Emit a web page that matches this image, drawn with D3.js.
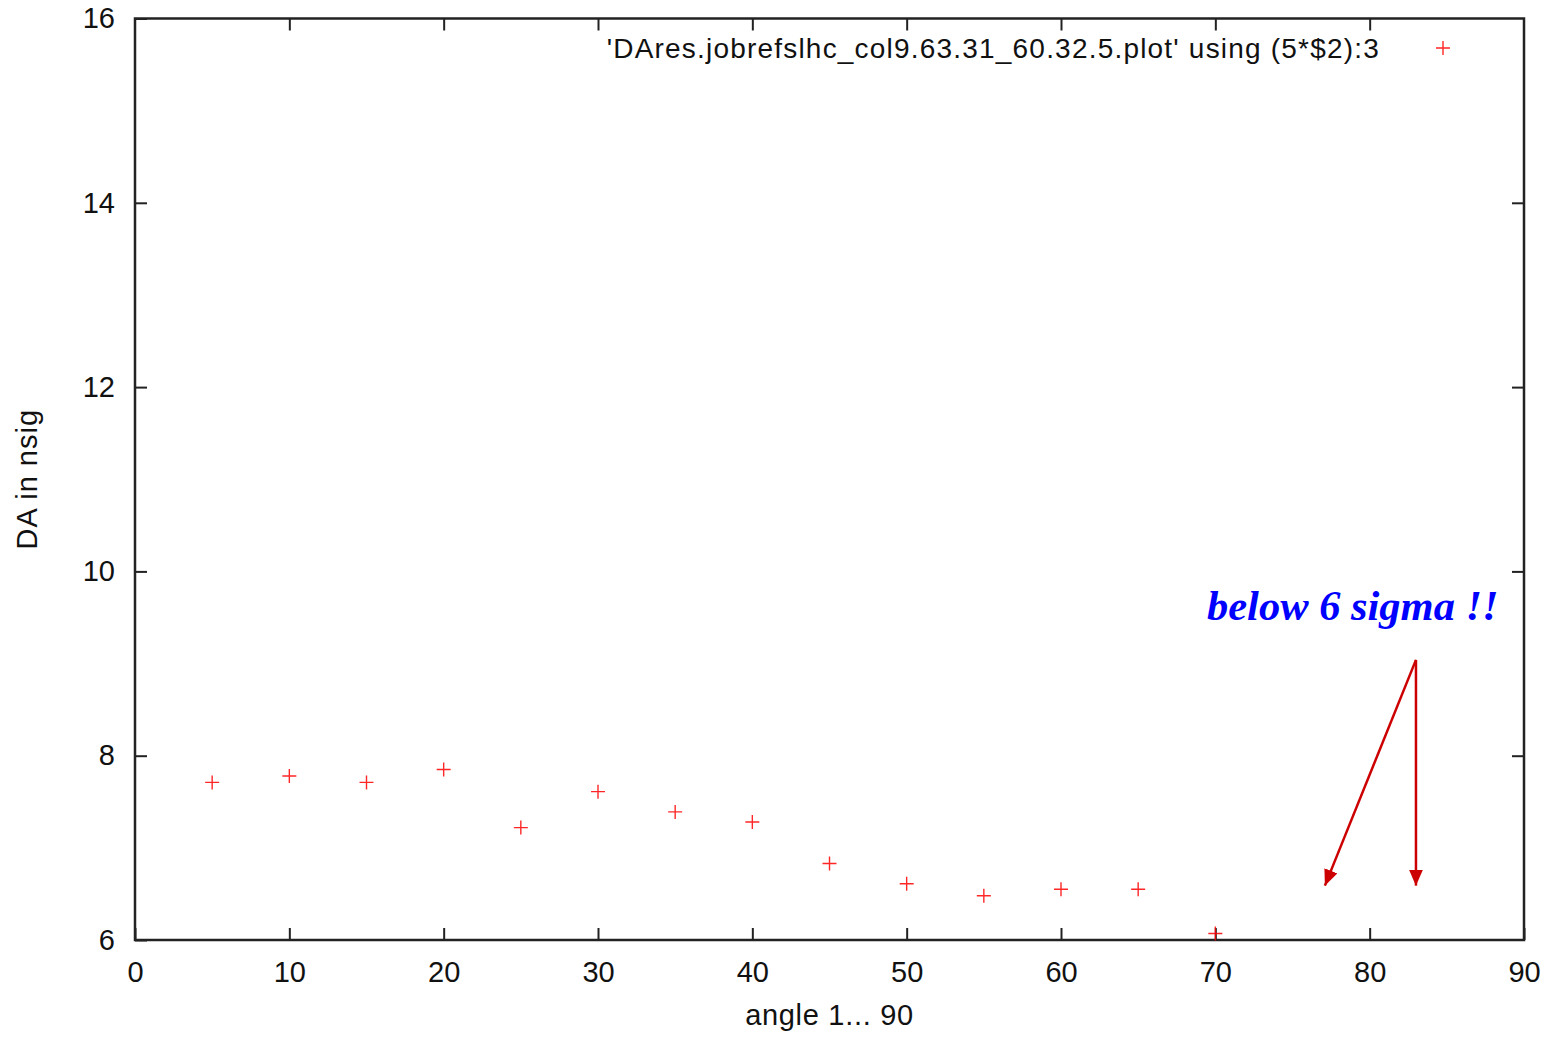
<!DOCTYPE html>
<html>
<head>
<meta charset="utf-8">
<script src="https://cdn.jsdelivr.net/npm/d3@7"></script>
<style>
  html, body { margin: 0; padding: 0; background: #fff; }
  svg { display: block; }
  text { font-family: "Liberation Sans", Arial, sans-serif; fill: #111; }
</style>
</head>
<body>
<svg id="chart" width="1557" height="1037"></svg>
<script>
// Dynamic aperture (in sigma) versus angle
const angles = [5, 10, 15, 20, 25, 30, 35, 40, 45, 50, 55, 60, 65, 70];
const daValues = [7.71, 7.78, 7.71, 7.85, 7.22, 7.61, 7.39, 7.28, 6.83, 6.61, 6.48, 6.55, 6.55, 6.07];
const xTicks = [0, 10, 20, 30, 40, 50, 60, 70, 80, 90];
const yTicks = [6, 8, 10, 12, 14, 16];
const seriesLabel = "'DAres.jobrefslhc_col9.63.31_60.32.5.plot' using (5*$2):3";
const noteText = "below 6 sigma !!";
// Annotation arrows: common start point and two heads, in data units
const arrowStart = [83.0, 9.04];
const arrowEnds = [[77.1, 6.59], [83.0, 6.59]];

const W = 1557, H = 1037;
const margin = { left: 135, right: 33, top: 18.5, bottom: 97 };
const svg = d3.select("#chart");

const x = d3.scaleLinear().domain([0, 90]).range([margin.left, W - margin.right]);
const y = d3.scaleLinear().domain([6, 16]).range([H - margin.bottom, margin.top]);

const axisColor = "#222";
const tick = 12;
const fontSize = "29px";

function styleAxis(g, showText) {
  g.select(".domain").remove();
  g.selectAll(".tick line").attr("stroke", axisColor).attr("stroke-width", 2);
  g.selectAll(".tick text")
    .attr("fill", "#111")
    .style("font-size", fontSize)
    .style("font-family", "'Liberation Sans', Arial, sans-serif");
  if (!showText) g.selectAll(".tick text").remove();
}

// Bottom axis with labels, inward ticks
svg.append("g")
  .attr("transform", `translate(0,${y(6)})`)
  .call(d3.axisBottom(x).tickValues(xTicks).tickSizeInner(-tick).tickSizeOuter(0).tickPadding(21).tickFormat(d3.format("d")))
  .call(g => styleAxis(g, true));

// Top mirror ticks
svg.append("g")
  .attr("transform", `translate(0,${y(16)})`)
  .call(d3.axisTop(x).tickValues(xTicks.slice(1, -1)).tickSizeInner(-tick).tickSizeOuter(0))
  .call(g => styleAxis(g, false));

// Left axis with labels
svg.append("g")
  .attr("transform", `translate(${x(0)},0)`)
  .call(d3.axisLeft(y).tickValues(yTicks).tickSizeInner(-tick).tickSizeOuter(0).tickPadding(20).tickFormat(d3.format("d")))
  .call(g => styleAxis(g, true));

// Right mirror ticks
svg.append("g")
  .attr("transform", `translate(${x(90)},0)`)
  .call(d3.axisRight(y).tickValues(yTicks.slice(1, -1)).tickSizeInner(-tick).tickSizeOuter(0))
  .call(g => styleAxis(g, false));

// Plot frame
svg.append("rect")
  .attr("x", x(0)).attr("y", y(16))
  .attr("width", x(90) - x(0)).attr("height", y(6) - y(16))
  .attr("fill", "none").attr("stroke", axisColor).attr("stroke-width", 2.5);

// Axis titles
svg.append("text")
  .attr("x", (x(0) + x(90)) / 2).attr("y", 1025)
  .attr("text-anchor", "middle").style("font-size", fontSize)
  .style("letter-spacing", "0.7px")
  .text("angle 1... 90");

svg.append("text")
  .attr("transform", `translate(37,${(y(6) + y(16)) / 2}) rotate(-90)`)
  .attr("text-anchor", "middle").style("font-size", fontSize)
  .style("letter-spacing", "1px")
  .text("DA in nsig");

// Cross markers
const red = "#ff0000";
const half = 7;
const plus = d => `M${x(d[0]) - half},${y(d[1])}H${x(d[0]) + half}M${x(d[0])},${y(d[1]) - half}V${y(d[1]) + half}`;
svg.append("g").selectAll("path")
  .data(angles.map((a, i) => [a, daValues[i]]))
  .join("path")
  .attr("d", plus)
  .attr("stroke", red).attr("stroke-width", 1.4).attr("fill", "none").attr("opacity", 0.85);

// Key
svg.append("text")
  .attr("x", 1380).attr("y", 58)
  .attr("text-anchor", "end").style("font-size", "28px")
  .style("letter-spacing", "1.2px")
  .text(seriesLabel);
svg.append("path")
  .attr("d", `M1436,48H1450M1443,41V55`)
  .attr("stroke", red).attr("stroke-width", 1.4).attr("opacity", 0.85);

// Annotation
svg.append("text")
  .attr("x", 1207).attr("y", 620)
  .style("font-family", "'Liberation Serif', 'Times New Roman', serif")
  .style("font-size", "42.5px").style("font-weight", "bold").style("font-style", "italic")
  .style("fill", "#0000ff")
  .text(noteText);

const defs = svg.append("defs");
defs.append("marker")
  .attr("id", "head").attr("viewBox", "0 0 16 14")
  .attr("refX", 16).attr("refY", 7)
  .attr("markerWidth", 16).attr("markerHeight", 14)
  .attr("markerUnits", "userSpaceOnUse")
  .attr("orient", "auto")
  .append("path").attr("d", "M0,0L16,7L0,14Z").attr("fill", "#cc0000");

svg.append("g").selectAll("line")
  .data(arrowEnds)
  .join("line")
  .attr("x1", x(arrowStart[0])).attr("y1", y(arrowStart[1]))
  .attr("x2", d => x(d[0])).attr("y2", d => y(d[1]))
  .attr("stroke", "#cc0000").attr("stroke-width", 2.5)
  .attr("marker-end", "url(#head)");
</script>
</body>
</html>
